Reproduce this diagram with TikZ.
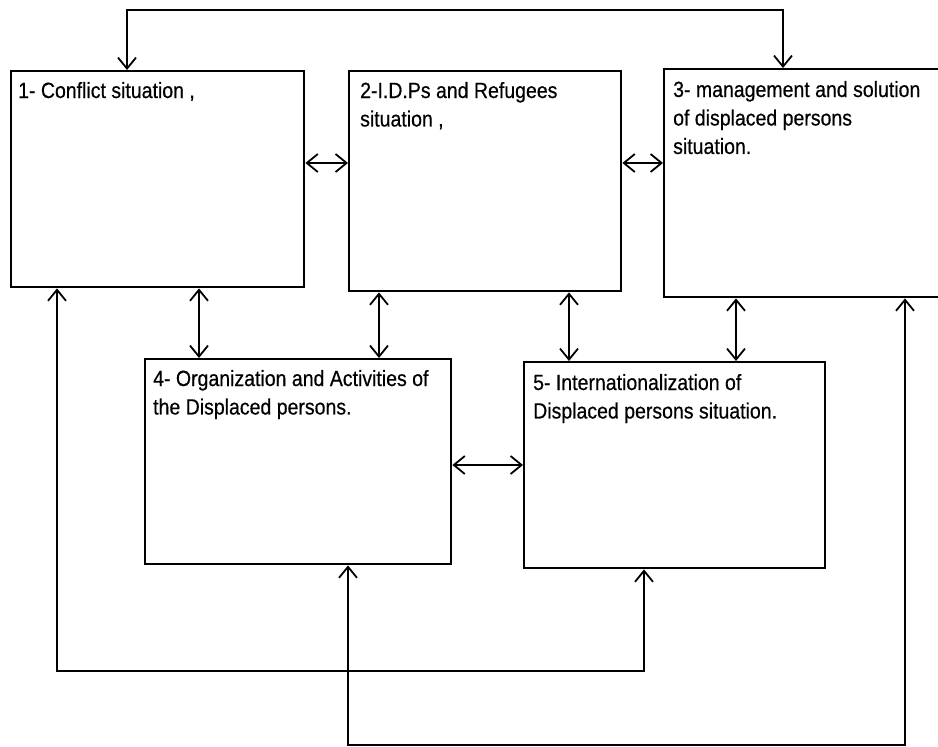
\documentclass[tikz,border=0pt]{standalone}
\usepackage{fontspec}
\setmainfont{Liberation Sans}
\newfontfamily\heavyfont{Liberation Sans}[FakeBold=0.5]
\usetikzlibrary{arrows.meta}
\tikzset{
  box/.style={draw=black, line width=2.4pt, rectangle, inner sep=0pt, anchor=north west},
  lbl/.style={inner sep=0pt, anchor=base west, font=\heavyfont\fontsize{19.5}{25.2}\selectfont},
  conn/.style={draw=black, line width=1.8pt, line cap=round,
    arrows={Straight Barb[length=11pt,width=18pt,line width=1.8pt]-Straight Barb[length=11pt,width=18pt,line width=1.8pt]}},
}
\newcommand{\boxtext}[1]{\scalebox{1}[1.13]{\begin{tabular}[t]{@{}l@{}}#1\end{tabular}}}
\begin{document}
\begin{tikzpicture}[x=1pt,y=-1pt]
\useasboundingbox (0,0) rectangle (938,747);
\fill[white] (0,0) rectangle (938,747);
% boxes
\node[box, minimum width=293pt, minimum height=216pt] (b1) at (10,70) {};
\node[box, minimum width=272pt, minimum height=220pt] (b2) at (348,70) {};
\node[box, minimum width=290pt, minimum height=228pt] (b3) at (663,68) {};
\node[box, minimum width=306pt, minimum height=205pt] (b4) at (144,358) {};
\node[box, minimum width=301pt, minimum height=206pt] (b5) at (523,361) {};
% texts
\node[lbl] (t1) at (18,98) {\boxtext{1- Conflict situation ,}};
\node[lbl] (t2) at (360,98) {\boxtext{2-I.D.Ps and Refugees\\situation ,}};
\node[lbl] (t3) at (673,97) {\boxtext{3- management and solution\\of displaced persons\\situation.}};
\node[lbl] (t4) at (153,386) {\boxtext{4- Organization and Activities of\\the Displaced persons.}};
\node[lbl] (t5) at (533,390) {\boxtext{5- Internationalization of\\Displaced persons situation.}};
% bend points
\coordinate (tl) at (127,10);
\coordinate (tr) at (783,10);
\coordinate (la) at (57,671);
\coordinate (ra) at (644,671);
\coordinate (lb) at (348,745);
\coordinate (rb) at (905,745);
% connectors
\draw[conn] (b1.north -| tl) -- (tl) -- (tr) -- (b3.north -| tr);
\draw[conn] (b1.east |- 0,163) -- (b2.west |- 0,163);
\draw[conn] (b2.east |- 0,163) -- (b3.west |- 0,163);
\draw[conn] (b1.south -| 199,0) -- (b4.north -| 199,0);
\draw[conn] (b2.south -| 379,0) -- (b4.north -| 379,0);
\draw[conn] (b2.south -| 569,0) -- (b5.north -| 569,0);
\draw[conn] (b3.south -| 736,0) -- (b5.north -| 736,0);
\draw[conn] (b4.east |- 0,465) -- (b5.west |- 0,465);
\draw[conn] (b1.south -| la) -- (la) -- (ra) -- (b5.south -| ra);
\draw[conn] (b4.south -| lb) -- (lb) -- (rb) -- (b3.south -| rb);
\end{tikzpicture}
\end{document}
